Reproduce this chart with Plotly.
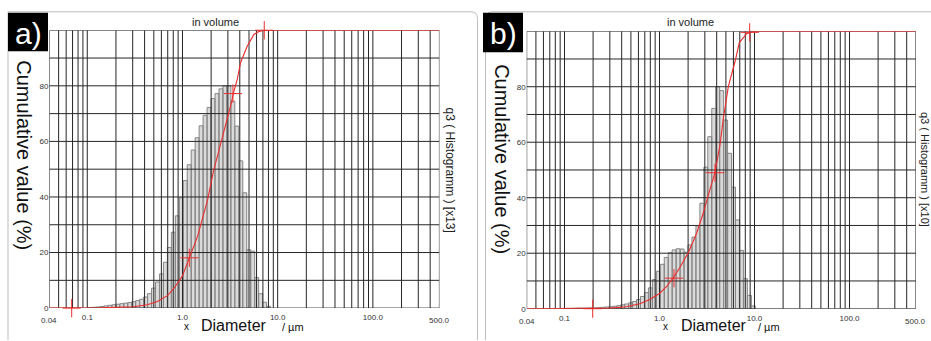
import numpy as np
import plotly.graph_objects as go

W, H = 931, 341

# ---- data -------------------------------------------------------------
# Particle-size classes: 24 geometric classes per decade starting near 0.1 um
BINS_PER_DECADE = 24
BIN_SHIFT = 0.2

# q3 histogram (scaled), one value per size class
q3_a = [0.2, 0.3, 0.4, 0.6, 0.8, 1.0, 1.2, 1.4, 1.6, 1.8, 2.0, 2.3, 2.7, 3.2,
        4.0, 5.2, 7.2, 9.4, 12.3, 16.5, 21.8, 27.3, 33.2, 39.7, 45.9, 51.6,
        56.9, 61.3, 65.6, 69.4, 72.2, 75.4, 77.2, 78.9, 80.0, 80.0, 74.5,
        65.5, 53.0, 41.5, 21.0, 20.5, 11.0, 5.2, 2.1, 0.6]
q3_b = [0.0, 0.1, 0.15, 0.2, 0.2, 0.25, 0.3, 0.3, 0.4, 0.5, 0.6, 0.7, 0.9,
        1.1, 1.4, 1.7, 2.1, 2.6, 3.3, 4.4, 5.8, 7.5, 10.5, 13.5, 16.0, 18.5,
        20.2, 21.2, 21.6, 21.5, 20.4, 23.0, 25.8, 29.8, 38.0, 51.0, 62.0,
        72.2, 80.0, 78.6, 68.0, 56.0, 43.8, 32.0, 21.0, 10.8, 4.8, 1.0]

# cumulative Q3 (%) against diameter (um)
diam_a = [0.04, 0.137, 0.305, 0.428, 0.546, 0.695, 0.804, 1.0, 1.18, 1.44,
          1.83, 2.12, 2.51, 2.98, 3.28, 3.42, 3.77, 4.08, 4.80, 5.63, 6.4,
          7.18, 500]
cum_a = [0, 0.1, 0.5, 1.2, 2.4, 4.5, 6.9, 11.6, 18.1, 25.8, 38.8, 49.4, 58.9,
         68.3, 74.2, 77.2, 82.5, 88.4, 94.3, 98.5, 99.6, 100, 100]
diam_b = [0.04, 0.17, 0.30, 0.45, 0.62, 0.79, 1.0, 1.19, 1.40, 1.65, 2.01,
          2.46, 2.89, 3.40, 3.84, 4.33, 4.70, 5.30, 6.23, 6.92, 8.28, 9.64, 500]
cum_b = [0, 0, 0.2, 0.7, 1.8, 3.3, 5.5, 8.0, 11.2, 15.0, 20.2, 27.2, 34.5,
         43.0, 49.1, 59.0, 68.5, 80.0, 89.0, 95.9, 99.1, 100, 100]

# characteristic points marked on the cumulative curves
mark_d_a = [0.0686, 1.18, 3.39, 7.23]
mark_q_a = [0, 18.1, 77.2, 100]
mark_d_b = [0.198, 1.42, 3.84, 8.9]
mark_q_b = [0, 11.0, 49.0, 99.6]

x_tick_vals = [0.1, 1, 10, 100]
x_tick_text = ["0.1", "1.0", "10.0", "100.0"]
x_end_vals = [0.04, 500]
x_end_text = ["0.04", "500.0"]
y_tick_vals = [0, 20, 40, 60, 80]
X_MIN, X_MAX = 0.04, 500
Y_MIN, Y_MAX = 0, 100

FONT = "Liberation Sans, Arial, sans-serif"
RED = "#ee2b2b"


def px(x):
    return x / W


def py(y):
    return 1 - y / H


def bar_polygons(values):
    xs, ys = [], []
    for k, v in enumerate(values):
        lo = 10 ** (-1 + (k + BIN_SHIFT) / BINS_PER_DECADE)
        hi = 10 ** (-1 + (k + 1 + BIN_SHIFT) / BINS_PER_DECADE)
        xs += [lo, lo, hi, hi, lo, None]
        ys += [0, v, v, 0, 0, None]
    return xs, ys


def grid_lines():
    vx = [m * 10.0 ** n for n in range(-2, 3) for m in range(1, 10)]
    vx = [v for v in vx if X_MIN * 0.999 <= v <= X_MAX * 1.001]
    gx, gy = [], []
    for v in vx:
        gx += [v, v, None]
        gy += [Y_MIN, Y_MAX, None]
    for h in range(Y_MIN, Y_MAX + 1, 10):
        gx += [X_MIN, X_MAX, None]
        gy += [h, h, None]
    return gx, gy


fig = go.Figure()

panels = [
    dict(xa="x", ya="y", q3=q3_a, d=diam_a, c=cum_a, md=mark_d_a, mq=mark_q_a),
    dict(xa="x2", ya="y2", q3=q3_b, d=diam_b, c=cum_b, md=mark_d_b, mq=mark_q_b),
]

for p in panels:
    bx, by = bar_polygons(p["q3"])
    fig.add_trace(go.Scatter(
        x=bx, y=by, xaxis=p["xa"], yaxis=p["ya"], mode="lines",
        fill="toself", fillcolor="#dadada",
        line=dict(color="#858585", width=1), hoverinfo="skip", showlegend=False))
    gx, gy = grid_lines()
    fig.add_trace(go.Scatter(
        x=gx, y=gy, xaxis=p["xa"], yaxis=p["ya"], mode="lines",
        line=dict(color="#262626", width=1), cliponaxis=False,
        hoverinfo="skip", showlegend=False))
    fig.add_trace(go.Scatter(
        x=p["d"], y=p["c"], xaxis=p["xa"], yaxis=p["ya"], mode="lines",
        line=dict(color=RED, width=1.1),
        cliponaxis=False, hoverinfo="skip", showlegend=False))
    fig.add_trace(go.Scatter(
        x=p["md"], y=p["mq"], xaxis=p["xa"], yaxis=p["ya"], mode="markers",
        marker=dict(symbol="cross-thin", size=13,
                    line=dict(color=RED, width=1)),
        cliponaxis=False, hoverinfo="skip", showlegend=False))

x_dom_a = [px(49.4), px(439.4)]
x_dom_b = [px(526.7), px(915.9)]
y_dom_a = [py(312.7), py(30.7)]
y_dom_b = [py(313.3), py(31.7)]


def xaxis(domain, anchor):
    return dict(type="log", range=[np.log10(X_MIN), np.log10(X_MAX)],
                domain=domain, anchor=anchor, showgrid=False, zeroline=False,
                showline=False, ticks="", tickvals=x_tick_vals,
                ticktext=x_tick_text, ticklabelstandoff=3,
                tickfont=dict(family=FONT, size=8, color="#333"))


def yaxis(domain, anchor):
    return dict(range=[Y_MIN, Y_MAX], domain=domain, anchor=anchor,
                showgrid=False, zeroline=False, showline=False, ticks="",
                tickvals=y_tick_vals, ticklabelstandoff=0,
                tickfont=dict(family=FONT, size=8, color="#333"))


def label(x, y, text, size, color="#111", angle=0, xref="paper"):
    return dict(x=x, y=y, xref=xref, yref="paper", text=text,
                textangle=angle, showarrow=False, xanchor="center",
                yanchor="middle", font=dict(family=FONT, size=size, color=color))


annotations = []
for xa, yb, cx, cy, tcx, rx, rsize, rlabel in [
        ("x", 325.7, 24.5, 157, 215, 450, 12, "q3 ( Histogramm ) [x13]"),
        ("x2", 326.5, 502.5, 161, 690, 924.5, 11, "q3 ( Histogramm ) [x10]")]:
    for v, t in zip(x_end_vals, x_end_text):
        annotations.append(label(np.log10(v), py(yb), t, 8, "#333", xref=xa))
    annotations.append(label(px(cx), py(cy), "Cumulative value (%)", 20, angle=90))
    annotations.append(label(px(tcx), py(22), "in volume", 11, "#222"))
    annotations.append(label(px(rx), py(172), rlabel, rsize, "#222", angle=90))

# axis title pieces: "x   Diameter   / µm"
for x0 in (186.7, 665):
    annotations.append(label(px(x0), py(331.5), "x", 10))
for x0 in (234, 714):
    annotations.append(label(px(x0), py(330.5), "Diameter", 16))
for x0 in (292.5, 769):
    annotations.append(label(px(x0), py(331.5), "/ µm", 11))

# panel letters on black tiles
for (x0, y0, x1, y1, letter) in [(8, 13, 48, 52, "a)"), (483, 13, 523, 53, "b)")]:
    annotations.append(label(px((x0 + x1) / 2), py((y0 + y1) / 2 + 1), letter,
                             30, "white"))

shapes = [
    # outer frames of the two panels
    dict(type="path", xref="paper", yref="paper",
         path=(f"M {px(8)},{py(345)} L {px(8)},{py(12)} L {px(471)},{py(12)} "
               f"Q {px(477.5)},{py(12)} {px(477.5)},{py(19)} L {px(477.5)},{py(345)}"),
         line=dict(color="#bdbdbd", width=1)),
    dict(type="path", xref="paper", yref="paper",
         path=(f"M {px(485.5)},{py(345)} L {px(485.5)},{py(19)} "
               f"Q {px(485.5)},{py(12)} {px(492)},{py(12)} L {px(935)},{py(12)}"),
         line=dict(color="#bdbdbd", width=1)),
    dict(type="rect", xref="paper", yref="paper", x0=px(8), x1=px(48),
         y0=py(52), y1=py(13), fillcolor="black", line=dict(width=0)),
    dict(type="rect", xref="paper", yref="paper", x0=px(483), x1=px(523),
         y0=py(53), y1=py(13), fillcolor="black", line=dict(width=0)),
]

fig.update_layout(
    width=W, height=H, margin=dict(l=0, r=0, t=0, b=0),
    paper_bgcolor="white", plot_bgcolor="white",
    xaxis=xaxis(x_dom_a, "y"), yaxis=yaxis(y_dom_a, "x"),
    xaxis2=xaxis(x_dom_b, "y2"), yaxis2=yaxis(y_dom_b, "x2"),
    annotations=annotations, shapes=shapes, showlegend=False,
    font=dict(family=FONT),
)

fig.write_html("out.html")
